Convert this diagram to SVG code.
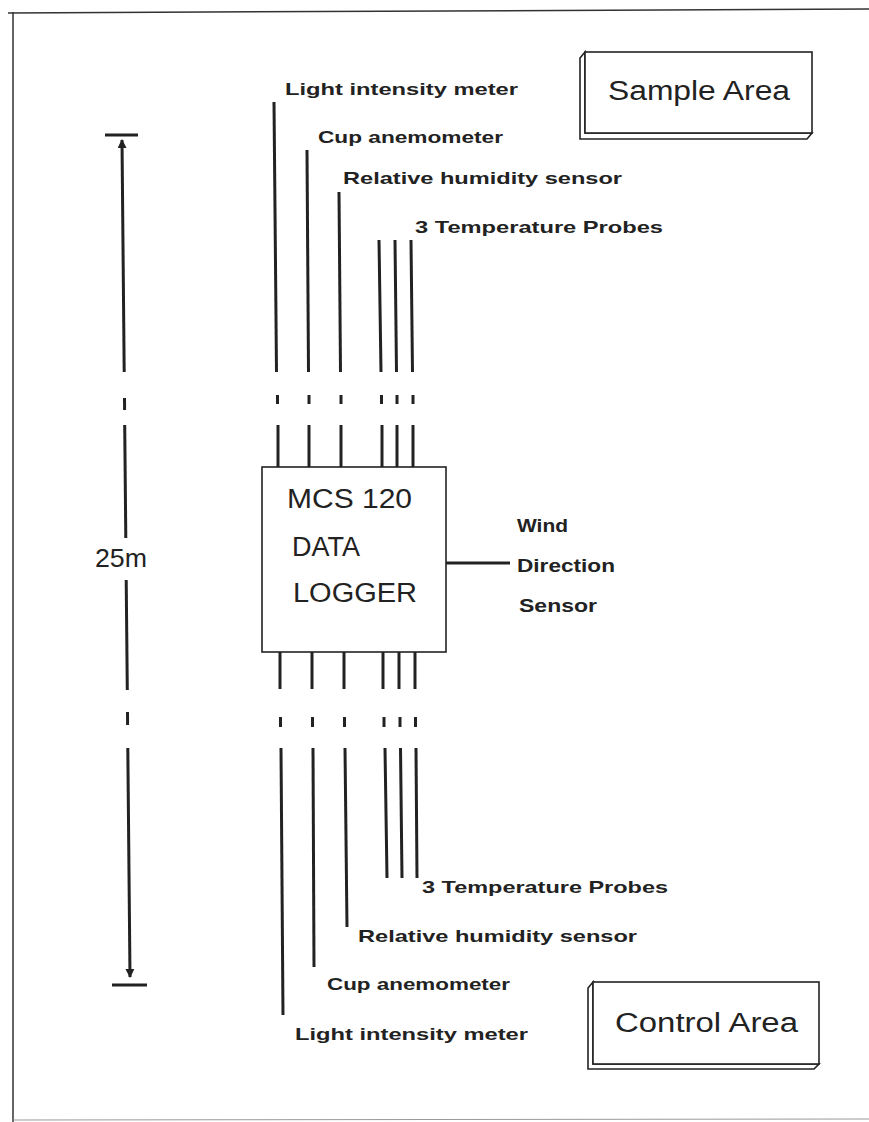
<svg xmlns="http://www.w3.org/2000/svg" width="869" height="1122" viewBox="0 0 869 1122">
<style>
.lbl{font-family:"Liberation Sans",Arial,sans-serif;font-weight:bold;font-size:17px;fill:#222}
.big{font-family:"Liberation Sans",Arial,sans-serif;font-size:27px;fill:#222}
.wind{font-family:"Liberation Sans",Arial,sans-serif;font-weight:bold;font-size:18px;fill:#222}
.wire{stroke:#222;stroke-width:3;fill:none}
.box{stroke:#222;stroke-width:1.6;fill:#fff}
.frame{stroke:#333;stroke-width:1.5;fill:none}
</style>
<defs>
<marker id="ah" viewBox="0 0 10 10" refX="9" refY="5" markerWidth="3" markerHeight="3" orient="auto-start-reverse" markerUnits="strokeWidth">
<path d="M0,0 L10,5 L0,10 z" fill="#222"/>
</marker>
</defs>
<rect width="869" height="1122" fill="#fff"/>
<g id="frame">
<line class="frame" x1="8" y1="13" x2="869" y2="9"/>
<line class="frame" x1="13" y1="12" x2="13" y2="1122"/>
<line x1="13" y1="1120" x2="869" y2="1119" stroke="#999" stroke-width="1"/>
</g>
<g id="connectors">
<!-- upper wires -->
<line class="wire" x1="274" y1="102" x2="276.5" y2="372"/>
<line class="wire" x1="277.5" y1="395" x2="277.5" y2="404"/>
<line class="wire" x1="278" y1="425" x2="278" y2="467"/>
<line class="wire" x1="307" y1="150" x2="308.5" y2="372"/>
<line class="wire" x1="309" y1="395" x2="309" y2="404"/>
<line class="wire" x1="309" y1="425" x2="309" y2="467"/>
<line class="wire" x1="339" y1="192" x2="340.5" y2="372"/>
<line class="wire" x1="341" y1="395" x2="341" y2="404"/>
<line class="wire" x1="341" y1="425" x2="341" y2="467"/>
<line class="wire" x1="379" y1="240" x2="381" y2="372"/>
<line class="wire" x1="381.5" y1="395" x2="381.5" y2="404"/>
<line class="wire" x1="382" y1="425" x2="382" y2="467"/>
<line class="wire" x1="395" y1="240" x2="396.5" y2="372"/>
<line class="wire" x1="397" y1="395" x2="397" y2="404"/>
<line class="wire" x1="397" y1="425" x2="397" y2="467"/>
<line class="wire" x1="411" y1="240" x2="412.5" y2="372"/>
<line class="wire" x1="413" y1="395" x2="413" y2="404"/>
<line class="wire" x1="413" y1="425" x2="413" y2="467"/>
<!-- lower wires -->
<line class="wire" x1="280" y1="652" x2="280" y2="689"/>
<line class="wire" x1="280.5" y1="717" x2="280.5" y2="727"/>
<line class="wire" x1="281" y1="748" x2="283" y2="1015"/>
<line class="wire" x1="312" y1="652" x2="312" y2="689"/>
<line class="wire" x1="312.5" y1="717" x2="312.5" y2="727"/>
<line class="wire" x1="313" y1="748" x2="314" y2="967"/>
<line class="wire" x1="344" y1="652" x2="344" y2="689"/>
<line class="wire" x1="344.5" y1="717" x2="344.5" y2="727"/>
<line class="wire" x1="345" y1="748" x2="347" y2="927"/>
<line class="wire" x1="383" y1="652" x2="383" y2="689"/>
<line class="wire" x1="384" y1="717" x2="384" y2="727"/>
<line class="wire" x1="385" y1="748" x2="387" y2="878"/>
<line class="wire" x1="399" y1="652" x2="399" y2="689"/>
<line class="wire" x1="400" y1="717" x2="400" y2="727"/>
<line class="wire" x1="400.5" y1="748" x2="402" y2="878"/>
<line class="wire" x1="415" y1="652" x2="415" y2="689"/>
<line class="wire" x1="415.5" y1="717" x2="415.5" y2="727"/>
<line class="wire" x1="416" y1="748" x2="417" y2="878"/>
<!-- wind direction -->
<line class="wire" x1="446" y1="563" x2="510" y2="563"/>
</g>
<g id="scale-25m">
<line x1="105" y1="135" x2="138" y2="135" stroke="#222" stroke-width="3"/>
<line x1="112" y1="985" x2="147" y2="985" stroke="#222" stroke-width="3"/>
<line class="wire" x1="124.2" y1="372" x2="122" y2="140" marker-end="url(#ah)"/>
<line class="wire" x1="124.5" y1="398" x2="124.6" y2="410"/>
<line class="wire" x1="124.7" y1="425" x2="125.8" y2="538"/>
<line class="wire" x1="126.2" y1="580" x2="127.3" y2="690"/>
<line class="wire" x1="127.5" y1="712" x2="127.6" y2="725"/>
<line class="wire" x1="127.8" y1="748" x2="130" y2="977" marker-end="url(#ah)"/>
<text x="95" y="567" font-family="Liberation Sans, Arial, sans-serif" font-size="25" fill="#222" textLength="52" lengthAdjust="spacingAndGlyphs">25m</text>
</g>
<g id="sample-area">
<polygon class="box" points="585,52 580,58 580,139 807,139 812,133 585,133"/>
<rect class="box" x="585" y="52" width="227" height="81"/>
<text class="big" x="608" y="100" textLength="182" lengthAdjust="spacingAndGlyphs">Sample Area</text>
</g>
<g id="control-area">
<polygon class="box" points="593,982 588,988 588,1069 814,1069 819,1064 593,1064"/>
<rect class="box" x="593" y="982" width="226" height="82"/>
<text class="big" x="615" y="1032" textLength="183" lengthAdjust="spacingAndGlyphs">Control Area</text>
</g>
<g id="data-logger">
<rect class="box" x="262" y="467" width="184" height="185"/>
<text class="big" x="287" y="508" textLength="125" lengthAdjust="spacingAndGlyphs">MCS 120</text>
<text class="big" x="292" y="556" textLength="68" lengthAdjust="spacingAndGlyphs">DATA</text>
<text class="big" x="293" y="602" textLength="124" lengthAdjust="spacingAndGlyphs">LOGGER</text>
</g>
<g id="wind-direction-sensor">
<text class="wind" x="517" y="532" textLength="51" lengthAdjust="spacingAndGlyphs">Wind</text>
<text class="wind" x="517" y="572" textLength="98" lengthAdjust="spacingAndGlyphs">Direction</text>
<text class="wind" x="519" y="612" textLength="78" lengthAdjust="spacingAndGlyphs">Sensor</text>
</g>
<g id="sample-sensors">
<text class="lbl" x="285" y="95" textLength="233" lengthAdjust="spacingAndGlyphs">Light intensity meter</text>
<text class="lbl" x="318" y="143" textLength="185" lengthAdjust="spacingAndGlyphs">Cup anemometer</text>
<text class="lbl" x="343" y="184" textLength="279" lengthAdjust="spacingAndGlyphs">Relative humidity sensor</text>
<text class="lbl" x="415" y="233" textLength="248" lengthAdjust="spacingAndGlyphs">3 Temperature Probes</text>
</g>
<g id="control-sensors">
<text class="lbl" x="422" y="893" textLength="246" lengthAdjust="spacingAndGlyphs">3 Temperature Probes</text>
<text class="lbl" x="358" y="942" textLength="279" lengthAdjust="spacingAndGlyphs">Relative humidity sensor</text>
<text class="lbl" x="327" y="990" textLength="183" lengthAdjust="spacingAndGlyphs">Cup anemometer</text>
<text class="lbl" x="295" y="1040" textLength="233" lengthAdjust="spacingAndGlyphs">Light intensity meter</text>
</g>
</svg>
